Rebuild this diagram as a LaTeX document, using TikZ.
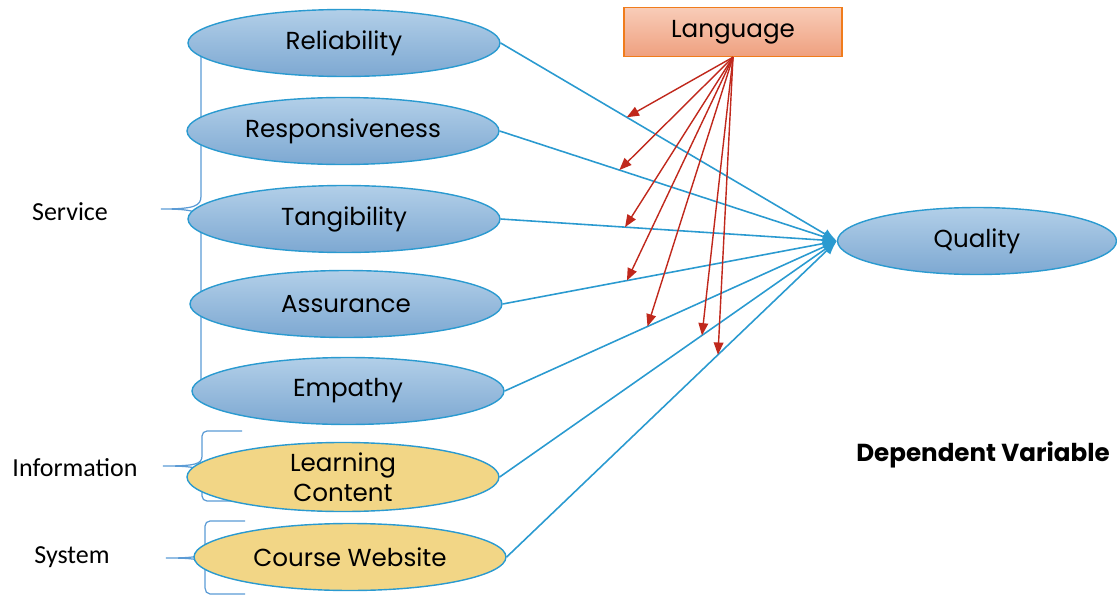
\documentclass[tikz,border=0pt]{standalone}
\usepackage{fontspec}
\setmainfont{Carlito}
\newfontfamily\gothic{Poppins}
\usetikzlibrary{arrows.meta,shapes.geometric}

\definecolor{lineblue}{HTML}{2A9AD0}
\definecolor{skytop}{HTML}{B2CFE8}
\definecolor{skybot}{HTML}{7DA8D2}
\definecolor{sand}{HTML}{F2D686}
\definecolor{peachtop}{HTML}{F8CCB8}
\definecolor{peachbot}{HTML}{EFA07F}
\definecolor{rust}{HTML}{F07C1C}
\definecolor{arrowred}{HTML}{C0281C}
\definecolor{bracket}{HTML}{5B9BD5}

\tikzset{
  oval/.style={ellipse, draw=lineblue, line width=0.8pt, minimum width=6.24cm,
    minimum height=1.34cm, inner sep=0pt, align=center,
    font=\gothic\fontsize{14}{17}\selectfont},
  factor/.style={oval, top color=skytop, bottom color=skybot},
  sysfactor/.style={oval, fill=sand},
  group/.style={font=\fontsize{14.8}{17}\selectfont},
  brace/.style={draw=bracket, line width=0.7pt},
  link/.style={draw=lineblue, line width=0.9pt, -{Latex[length=8pt,width=6pt]}},
  modarrow/.style={draw=arrowred, line width=0.8pt, -{Triangle[length=7pt,width=5.5pt]}}
}

\begin{document}
\begin{tikzpicture}[x=0.02cm, y=-0.02cm]
  \useasboundingbox (0,0) rectangle (1117,595);

  % group braces
  \draw[brace] (240,40) -- (207,40) to[out=180,in=90] (201,46) -- (201,196)
    .. controls (201,206) and (195,209) .. (161,209)
    .. controls (195,209) and (201,212) .. (201,222) -- (201,396)
    to[out=-90,in=180] (207,402) -- (240,402);
  \draw[brace] (242,431) -- (207,431) to[out=180,in=90] (202,436) -- (202,456)
    .. controls (202,464) and (196,466) .. (163,466)
    .. controls (196,466) and (202,468) .. (202,476) -- (202,496)
    to[out=-90,in=180] (207,501) -- (242,501);
  \draw[brace] (245,521) -- (210,521) to[out=180,in=90] (205,526) -- (205,548)
    .. controls (205,556) and (199,558) .. (166,558)
    .. controls (199,558) and (205,560) .. (205,568) -- (205,588)
    to[out=-90,in=180] (210,594) -- (245,594);

  % group labels
  \node[group] (service) at (70,212) {Service};
  \node[group] (information) at (75,468) {Information};
  \node[group] (system) at (72,557) {System};

  % dimensions
  \node[factor] (rel) at (344,43) {Reliability};
  \node[factor] (resp) at (343,131) {Responsiveness};
  \node[factor] (tang) at (344,219) {Tangibility};
  \node[factor] (assur) at (346,304) {Assurance};
  \node[factor] (emp) at (348,391) {Empathy};
  \node[sysfactor] (learn) at (343,477) {Learning\\Content};
  \node[sysfactor] (web) at (350,557) {Course Website};

  % outcome
  \node[factor, minimum width=5.58cm] (qual) at (977,241) {Quality};
  \node[font=\gothic\bfseries\fontsize{14}{17}\selectfont] (depvar) at (983,455)
    {Dependent Variable};

  % moderator
  \node[draw=rust, line width=0.8pt, top color=peachtop, bottom color=peachbot,
    minimum width=4.36cm, minimum height=0.98cm, inner sep=0pt,
    font=\gothic\fontsize{14}{17}\selectfont] (lang) at (733,32) {Language};

  % paths to quality
  \foreach \src in {rel, resp, tang, assur, emp, learn, web}
    \draw[link] (\src.east) -- (qual.west);

  % points moderated on each path
  \path (rel.east) -- (qual.west) coordinate[pos=0.375] (m1);
  \path (resp.east) -- (qual.west) coordinate[pos=0.355] (m2);
  \path (tang.east) -- (qual.west) coordinate[pos=0.37] (m3);
  \path (assur.east) -- (qual.west) coordinate[pos=0.372] (m4);
  \path (emp.east) -- (qual.west) coordinate[pos=0.43] (m5);
  \path (learn.east) -- (qual.west) coordinate[pos=0.60] (m6);
  \path (web.east) -- (qual.west) coordinate[pos=0.64] (m7);

  \foreach \i in {1,...,7}
    \draw[modarrow] (lang.south) -- (m\i);
\end{tikzpicture}
\end{document}
